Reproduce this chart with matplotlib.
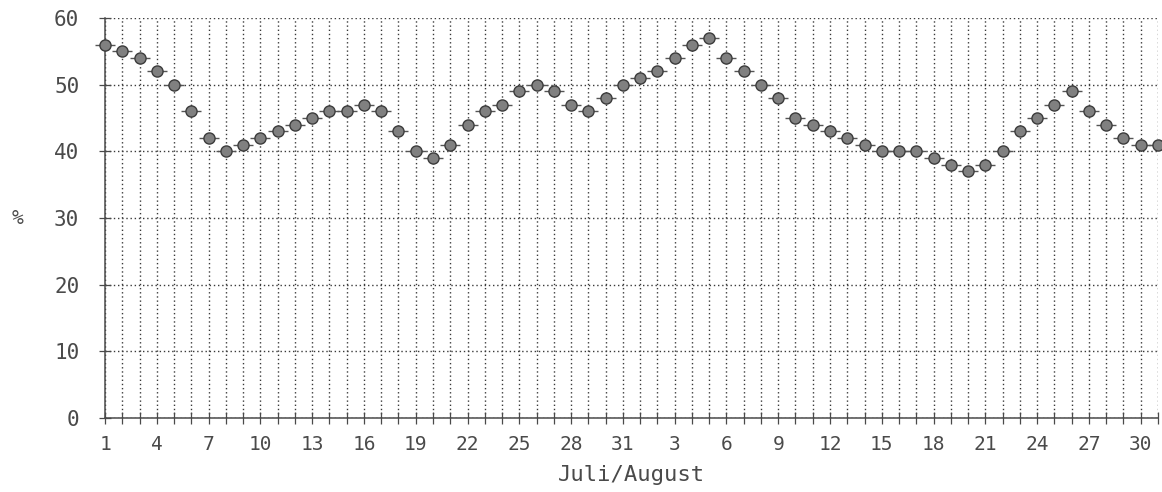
import matplotlib
matplotlib.use("Agg")
import matplotlib.pyplot as plt
import numpy as np

# Daily share in percent, 1 July through 31 August
july_values = [56, 55, 54, 52, 50, 46, 42, 40, 41, 42, 43, 44, 45, 46, 46, 47,
               46, 43, 40, 39, 41, 44, 46, 47, 49, 50, 49, 47, 46, 48, 50]
august_values = [51, 52, 54, 56, 57, 54, 52, 50, 48, 45, 44, 43, 42, 41, 40, 40,
                 40, 39, 38, 37, 38, 40, 43, 45, 47, 49, 46, 44, 42, 41, 41]
values = july_values + august_values
day_numbers = list(range(1, 32)) + list(range(1, 32))
x_label = "Juli/August"
y_label = "%"
y_ticks = [0, 10, 20, 30, 40, 50, 60]

ink = "#4a4a4a"
font = ["DejaVu Sans Mono"]

fig = plt.figure(figsize=(11.62, 4.92), dpi=100)
ax = fig.add_axes([105 / 1162, 74 / 492, 1053 / 1162, 400 / 492])

x = np.arange(1, len(values) + 1)
ax.set_xlim(1, len(values))
ax.set_ylim(0, 60)

# dotted grid: one vertical line per day, horizontal line every 10 %
ax.set_xticks(x)
ax.set_yticks(y_ticks)
ax.grid(True, which="major", color="#3a3a3a", linestyle=(0, (1, 2.0)), linewidth=1.0)
ax.set_axisbelow(True)

for side in ("top", "right"):
    ax.spines[side].set_visible(False)
for side in ("left", "bottom"):
    ax.spines[side].set_color(ink)
    ax.spines[side].set_linewidth(1.1)

ax.tick_params(axis="x", direction="inout", length=9, width=0.9, color=ink,
               pad=8, labelsize=14, labelcolor=ink)
ax.tick_params(axis="y", direction="inout", length=9, width=0.9, color=ink,
               pad=14, labelsize=15, labelcolor=ink)

labels = [str(d) if i % 3 == 0 else "" for i, d in enumerate(day_numbers)]
ax.set_xticklabels(labels, fontfamily=font)
ax.set_yticklabels([str(v) for v in y_ticks], fontfamily=font)

# markers: dark hatched blobs with short side dashes
ax.plot(x, values, linestyle="none", marker="_", markersize=14,
        markeredgewidth=1.0, color="#555555", clip_on=False, zorder=3)
ax.plot(x, values, linestyle="none", marker="o", markersize=8,
        markerfacecolor="#808080", markeredgecolor="#3c3c3c",
        markeredgewidth=1.0, clip_on=False, zorder=4)

ax.set_xlabel(x_label, fontfamily=font, fontsize=16, color=ink, labelpad=8)
fig.text(18 / 1162, 1 - 218 / 492, y_label, fontfamily=font, fontsize=14,
         color=ink, ha="center", va="center")

fig.savefig("out.png", dpi=100)
